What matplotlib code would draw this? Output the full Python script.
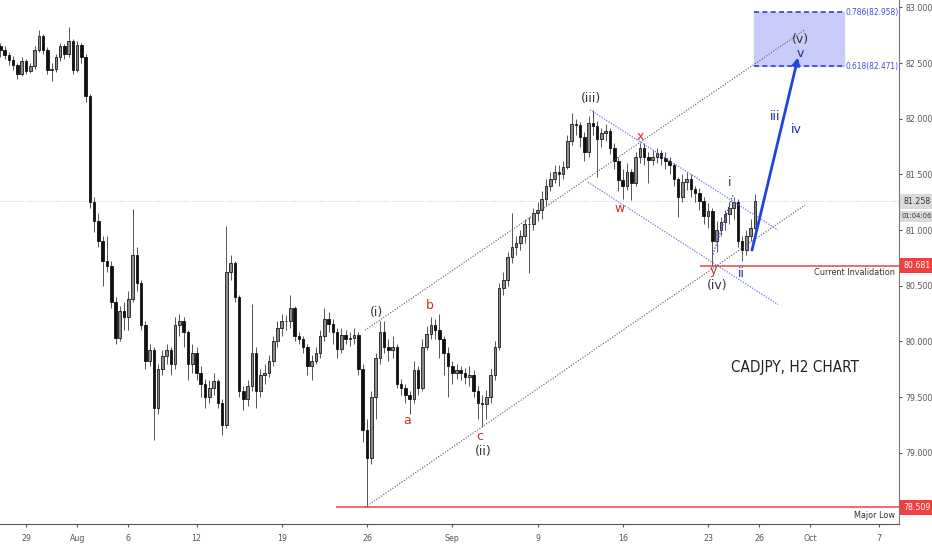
import numpy as np
import matplotlib
matplotlib.use("Agg")
import matplotlib.pyplot as plt
from matplotlib import font_manager as fm

plt.rcParams['font.family'] = ['DejaVu Sans']

# pick a narrow face for the axis / tag texts if one is installed
narrow_fp = None
for f in fm.fontManager.ttflist:
    regular = f.style == 'normal' and f.weight in (400, 'normal', 'regular', 'book')
    if regular and f.name == 'Liberation Sans Narrow':
        narrow_fp = fm.FontProperties(fname=f.fname)
        break
if narrow_fp is None:
    for f in fm.fontManager.ttflist:
        regular = f.style == 'normal' and f.weight in (400, 'normal', 'regular', 'book')
        if regular and ('Narrow' in f.name or 'Condensed' in f.name
                        or str(f.stretch) in ('condensed', 'semi-condensed')):
            narrow_fp = fm.FontProperties(fname=f.fname)
            break
if narrow_fp is None:
    narrow_fp = fm.FontProperties(family='Liberation Sans')

# CADJPY price bars, one every quarter trading day
first_open = 82.65
closes = [82.62, 82.57, 82.53, 82.48, 82.40, 82.52, 82.43, 82.47, 82.62, 82.74,
          82.62, 82.44, 82.45, 82.55, 82.65, 82.58, 82.70, 82.44, 82.66, 82.55,
          82.20, 81.25, 81.08, 80.90, 80.72, 80.68, 80.35, 80.03, 80.27, 80.22,
          80.38, 80.78, 80.52, 80.15, 79.82, 79.92, 79.40, 79.75, 79.87, 79.92,
          79.80, 80.15, 80.18, 80.08, 79.80, 79.90, 79.72, 79.62, 79.50, 79.58,
          79.64, 79.45, 79.25, 80.62, 80.70, 80.40, 79.55, 79.48, 79.60, 79.90,
          79.55, 79.70, 79.72, 79.82, 80.00, 80.12, 80.18, 80.18, 80.30, 80.05,
          80.02, 79.95, 79.78, 79.82, 79.90, 80.05, 80.20, 80.16, 80.08, 79.93,
          80.06, 80.02, 80.03, 80.06, 79.75, 79.20, 78.95, 79.50, 79.85, 80.08,
          79.95, 79.92, 79.95, 79.62, 79.58, 79.52, 79.48, 79.74, 79.58, 79.95,
          80.07, 80.15, 80.10, 80.02, 79.90, 79.78, 79.72, 79.74, 79.72, 79.68,
          79.70, 79.55, 79.45, 79.44, 79.50, 79.70, 79.95, 80.48, 80.55, 80.76,
          80.85, 80.88, 80.95, 81.05, 81.05, 81.15, 81.18, 81.28, 81.40, 81.46,
          81.52, 81.50, 81.57, 81.80, 81.95, 81.94, 81.84, 81.70, 81.96, 81.93,
          81.82, 81.87, 81.89, 81.74, 81.62, 81.45, 81.40, 81.52, 81.42, 81.66,
          81.74, 81.66, 81.63, 81.66, 81.69, 81.65, 81.62, 81.58, 81.46, 81.30,
          81.43, 81.46, 81.37, 81.33, 81.26, 81.13, 81.17, 80.90, 81.00, 81.07,
          81.14, 81.20, 81.25, 80.90, 80.82, 80.95, 81.02, 81.258]
highs = [82.68, 82.65, 82.60, 82.56, 82.50, 82.55, 82.54, 82.50, 82.65, 82.80,
         82.76, 82.64, 82.50, 82.58, 82.68, 82.67, 82.82, 82.72, 82.70, 82.68,
         82.58, 82.22, 81.30, 81.15, 80.95, 80.95, 80.72, 80.40, 80.32, 80.35,
         80.45, 81.19, 80.85, 80.55, 80.18, 79.98, 79.95, 79.80, 79.92, 79.98,
         79.95, 80.22, 80.25, 80.22, 80.10, 79.98, 79.95, 79.78, 79.66, 79.65,
         79.72, 79.66, 79.48, 81.04, 80.78, 80.72, 80.42, 79.60, 79.65, 80.34,
         79.95, 79.75, 79.80, 79.88, 80.05, 80.18, 80.25, 80.24, 80.42, 80.32,
         80.08, 80.05, 79.98, 79.88, 79.95, 80.10, 80.30, 80.26, 80.20, 80.12,
         80.12, 80.10, 80.08, 80.12, 80.08, 79.80, 79.30, 79.55, 79.90, 80.18,
         80.18, 80.02, 80.05, 79.98, 79.66, 79.62, 79.55, 79.82, 79.78, 80.02,
         80.14, 80.22, 80.20, 80.25, 80.05, 79.95, 79.82, 79.80, 79.78, 79.76,
         79.78, 79.74, 79.60, 79.52, 79.56, 79.75, 80.00, 80.52, 80.62, 80.80,
         81.15, 80.95, 81.00, 81.10, 81.12, 81.20, 81.25, 81.35, 81.46, 81.52,
         81.58, 81.58, 81.62, 81.85, 82.05, 82.00, 81.97, 81.88, 82.02, 82.08,
         81.98, 81.92, 81.95, 81.92, 81.78, 81.66, 81.55, 81.60, 81.55, 81.70,
         81.78, 81.78, 81.70, 81.72, 81.74, 81.72, 81.70, 81.66, 81.60, 81.48,
         81.50, 81.52, 81.50, 81.40, 81.38, 81.30, 81.24, 81.20, 81.08, 81.12,
         81.18, 81.25, 81.30, 81.28, 80.95, 81.00, 81.10, 81.32]
lows = [82.55, 82.54, 82.48, 82.44, 82.36, 82.38, 82.40, 82.41, 82.45, 82.60,
        82.58, 82.40, 82.34, 82.42, 82.52, 82.54, 82.55, 82.40, 82.42, 82.50,
        82.15, 81.20, 80.98, 80.85, 80.50, 80.62, 80.30, 79.98, 80.00, 80.10,
        80.10, 80.35, 80.45, 80.10, 79.75, 79.78, 79.11, 79.35, 79.70, 79.80,
        79.70, 79.75, 80.05, 79.95, 79.65, 79.72, 79.65, 79.50, 79.40, 79.45,
        79.52, 79.40, 79.16, 79.22, 80.55, 80.35, 79.50, 79.38, 79.42, 79.55,
        79.40, 79.50, 79.62, 79.68, 79.78, 79.95, 80.05, 80.10, 80.12, 80.00,
        79.98, 79.90, 79.70, 79.65, 79.80, 79.85, 80.00, 80.08, 79.98, 79.85,
        79.90, 79.98, 79.96, 79.98, 79.70, 79.10, 78.509, 78.90, 79.30, 79.80,
        79.90, 79.82, 79.85, 79.58, 79.52, 79.45, 79.35, 79.45, 79.52, 79.55,
        79.92, 80.02, 80.02, 79.85, 79.70, 79.50, 79.62, 79.66, 79.65, 79.62,
        79.60, 79.50, 79.30, 79.23, 79.30, 79.45, 79.65, 79.92, 80.42, 80.50,
        80.70, 80.78, 80.82, 80.88, 80.61, 81.00, 81.08, 81.10, 81.22, 81.35,
        81.42, 81.40, 81.46, 81.55, 81.76, 81.85, 81.75, 81.62, 81.66, 81.85,
        81.48, 81.75, 81.80, 81.68, 81.55, 81.35, 81.28, 81.36, 81.27, 81.40,
        81.60, 81.58, 81.42, 81.58, 81.60, 81.58, 81.55, 81.50, 81.40, 81.12,
        81.25, 81.36, 81.30, 81.25, 81.18, 81.05, 81.02, 80.68, 80.80, 80.95,
        81.00, 81.05, 81.10, 80.85, 80.72, 80.78, 80.90, 81.00]
opens = [first_open] + closes[:-1]

first_bar_day = '2019-07-25'
tick_dates = ['2019-07-29', '2019-08-01', '2019-08-06', '2019-08-12', '2019-08-19',
              '2019-08-26', '2019-09-02', '2019-09-09', '2019-09-16', '2019-09-23',
              '2019-09-26', '2019-10-01', '2019-10-07']
tick_labels = ['29', 'Aug', '6', '12', '19', '26', 'Sep', '9', '16', '23', '26', 'Oct', '7']

last_price = 81.258
countdown = '01:04:06'
invalidation = 80.681
major_low = 78.509
fib_levels = [0.618, 0.786]
fib_prices = [82.471, 82.958]

# trendlines (trading day, price)
upper_channel = [(19.88, 80.10), (45.69, 82.80)]
lower_channel = [(19.88, 78.509), (45.69, 81.225)]
wx_upper = [(33.08, 82.08), (44.11, 81.00)]
wx_lower = [(32.96, 81.43), (44.11, 80.33)]
wave_i = [(40.29, 80.78), (41.47, 81.32)]
projection = [(42.58, 80.82), (45.28, 82.55)]

# wave labels: text, day, price, colour
RED, BLACK, BLUE = '#d42a2a', '#333333', '#1f2d9c'
wave_labels = [('(i)', 20.53, 80.26, BLACK), ('a', 22.35, 79.29, RED),
               ('b', 23.70, 80.32, RED), ('c', 26.63, 79.15, RED),
               ('(ii)', 26.80, 79.01, BLACK), ('(iii)', 33.14, 82.18, BLACK),
               ('x', 36.01, 81.84, RED), ('w', 34.84, 81.19, RED),
               ('i', 41.29, 81.43, BLUE), ('y', 40.29, 80.64, RED),
               ('ii', 41.94, 80.61, BLUE), ('(iv)', 40.53, 80.50, BLACK),
               ('iii', 43.93, 82.02, BLUE), ('iv', 45.16, 81.90, BLUE),
               ('(v)', 45.45, 82.71, BLACK), ('v', 45.40, 82.585, BLUE)]

fig = plt.figure(figsize=(9.32, 5.5), dpi=100)
ax = fig.add_axes([0, 26 / 550, 899 / 932, 524 / 550])

x0 = np.busday_count('2019-07-29', first_bar_day) + 0.5
bar_x = x0 + 0.25 * np.arange(len(closes))
o = np.array(opens)
c = np.array(closes)
up = c >= o

ax.vlines(bar_x, lows, highs, color='#555555', lw=0.7, zorder=2)
ax.bar(bar_x[up], c[up] - o[up], bottom=o[up], width=0.15, color='#8a8a8a',
       edgecolor='#1a1a1a', lw=0.6, zorder=3)
ax.bar(bar_x[~up], c[~up] - o[~up], bottom=o[~up], width=0.15, color='#111111',
       edgecolor='#111111', lw=0.6, zorder=3)

xmax = (899 - 26) / 17.05
ax.axhline(last_price, color='#cccccc', ls=(0, (1, 1.5)), lw=0.8, zorder=0)
ax.hlines(invalidation, 39.53, xmax, color='#e84545', lw=1.1, zorder=4)
ax.hlines(major_low, 18.18, xmax, color='#e84545', lw=1.1, zorder=4)

for line in [upper_channel, lower_channel]:
    ax.plot(*zip(*line), color='#555555', ls=(0, (1, 1.5)), lw=0.8, zorder=4)
for line in [wx_upper, wx_lower]:
    ax.plot(*zip(*line), color='#6f74e8', ls=(0, (1, 1.2)), lw=0.9, zorder=4)
ax.plot(*zip(*wave_i), color='#3b45d8', ls=(0, (1, 1.2)), lw=1.0, zorder=4)
ax.annotate('', xy=projection[1], xytext=projection[0],
            arrowprops=dict(arrowstyle='-|>', color='#1f45e0', lw=2,
                            mutation_scale=10, shrinkA=0, shrinkB=0), zorder=5)

# fibonacci target box
ax.fill_between([42.70, 47.98], fib_prices[0], fib_prices[1], color='#c9ccfa', zorder=1)
for lvl, p in zip(fib_levels, fib_prices):
    ax.hlines(p, 42.70, 47.98, color='#3c3cd6', ls=(0, (3, 2)), lw=1.2, zorder=4)
    ax.text(48.04, p, f'{lvl}({p})', color='#4a4ae0', fontproperties=narrow_fp,
            fontsize=6, va='center', ha='left', zorder=5)

for txt, d, p, col in wave_labels:
    ax.text(d, p, txt, color=col, fontsize=9, ha='center', va='center', zorder=6)

ax.text(45.10, 79.77, 'CADJPY, H2 CHART', fontproperties=narrow_fp, fontsize=11,
        color='#222222', ha='center', va='center')
ax.text(50.95, invalidation - 0.06, 'Current Invalidation', fontproperties=narrow_fp,
        fontsize=6.5, color='#333333', ha='right', va='center')
ax.text(50.95, major_low - 0.07, 'Major Low', fontproperties=narrow_fp,
        fontsize=6.5, color='#333333', ha='right', va='center')

# price tags on the right axis
tag = dict(xycoords=('axes fraction', 'data'), fontproperties=narrow_fp, fontsize=6.3,
           ha='left', va='center', annotation_clip=False, zorder=7)
tx = 1.0 + 4 / 899
ax.annotate(f'{invalidation:.3f}', xy=(tx, invalidation), color='white',
            bbox=dict(boxstyle='square,pad=0.35', fc='#f04040', ec='none'), **tag)
ax.annotate(f'{major_low:.3f}', xy=(tx, major_low), color='white',
            bbox=dict(boxstyle='square,pad=0.35', fc='#f04040', ec='none'), **tag)
ax.annotate(f'{last_price:.3f}', xy=(tx, last_price), color='#333333',
            bbox=dict(boxstyle='square,pad=0.35', fc='#dadada', ec='none'), **tag)
tag['fontsize'] = 5.3
ax.annotate(countdown, xy=(1.0 + 3 / 899, last_price - 0.135), color='#333333',
            bbox=dict(boxstyle='square,pad=0.3', fc='#dadada', ec='none'), **tag)

ax.set_xlim(-26 / 17.05, xmax)
ax.set_ylim(78.36, 83.066)
ax.yaxis.tick_right()
ax.set_yticks(np.arange(79.0, 83.01, 0.5))
ax.yaxis.set_major_formatter(matplotlib.ticker.FormatStrFormatter('%.3f'))
ax.set_xticks(np.busday_count('2019-07-29', tick_dates))
ax.set_xticklabels(tick_labels)
ax.tick_params(axis='both', colors='#555555', length=2.5, width=0.8)
ax.tick_params(axis='y', pad=2)
ax.tick_params(axis='x', pad=5)
for lab in ax.get_xticklabels() + ax.get_yticklabels():
    lab.set_fontproperties(narrow_fp)
    lab.set_fontsize(6.3)
for s in ['top', 'left']:
    ax.spines[s].set_visible(False)
ax.spines['right'].set_color('#777777')
ax.spines['bottom'].set_color('#555555')

fig.savefig('out.png', dpi=100, facecolor='white')
